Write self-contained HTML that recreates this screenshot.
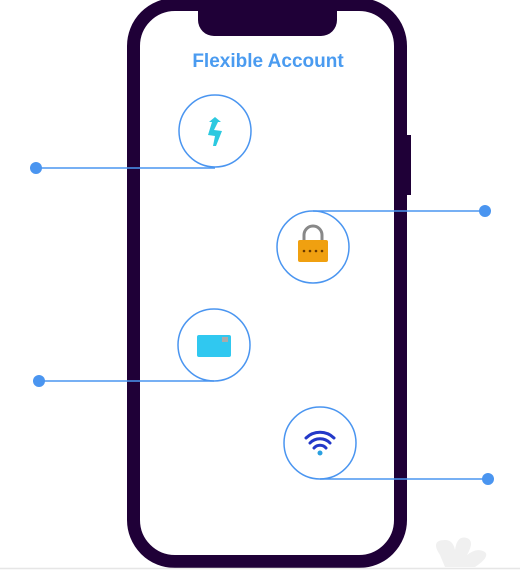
<!DOCTYPE html>
<html><head><style>
body{margin:0;width:520px;height:570px;background:#fff;position:relative;overflow:hidden;font-family:"Liberation Sans",sans-serif}
.phone{position:absolute;left:127px;top:-2px;width:254px;height:544px;border:13px solid #1f0037;border-radius:48px;background:#fff}
.notch{position:absolute;left:198px;top:0;width:139px;height:36px;background:#1f0037;border-radius:0 0 16px 16px}
.btn{position:absolute;left:405px;top:135px;width:6px;height:60px;background:#1f0037}
.title{position:absolute;left:140px;width:256px;top:51px;text-align:center;color:#4a9bf0;font-weight:bold;font-size:19px}
</style></head><body>
<div class="phone"></div><div class="notch"></div><div class="btn"></div>
<div class="title">Flexible Account</div>
<svg width="520" height="570" style="position:absolute;left:0;top:0">
<g fill="none" stroke="#4a95f0" stroke-width="1.5">
<circle cx="215" cy="131" r="36"/><line x1="36" y1="168" x2="215" y2="168"/>
<circle cx="313" cy="247" r="36"/><line x1="313" y1="211" x2="485" y2="211"/>
<circle cx="214" cy="345" r="36"/><line x1="39" y1="381" x2="214" y2="381"/>
<circle cx="320" cy="443" r="36"/><line x1="320" y1="479" x2="488" y2="479"/>
</g>
<g fill="#4a95f0"><circle cx="36" cy="168" r="6"/><circle cx="485" cy="211" r="6"/><circle cx="39" cy="381" r="6"/><circle cx="488" cy="479" r="6"/></g>
<polygon points="215,117 221,122 218,122 214,130 222,131 216,146 213,146 215,136 208,135 212,122 209,122" fill="#2cc9e0"/>
<path d="M304 240 v-5 a9 9 0 0 1 18 0 v5" fill="none" stroke="#888" stroke-width="3"/>
<rect x="298" y="240" width="30" height="22" rx="2" fill="#f0a010"/>
<g fill="#6a3a00"><circle cx="304" cy="251" r="1.3"/><circle cx="310" cy="251" r="1.3"/><circle cx="316" cy="251" r="1.3"/><circle cx="322" cy="251" r="1.3"/></g>
<rect x="197" y="335" width="34" height="22" rx="2" fill="#30c8f0"/>
<rect x="222" y="337" width="6" height="5" fill="#aaa"/>
<g fill="none" stroke="#2338c8" stroke-width="3" stroke-linecap="round">
<path d="M306 438 a20 20 0 0 1 28 0"/><path d="M310 443 a14 14 0 0 1 20 0"/><path d="M314 448 a8 8 0 0 1 12 0"/></g>
<circle cx="320" cy="453" r="2.5" fill="#2aa0e0"/>
<path d="M440 555 q-10 -15 5 -15 q8 0 10 10 q2 -15 12 -12 q8 3 0 17 q10 -8 18 -3 q5 5 -10 15 h-30z" fill="#f0f0f0"/>
<line x1="0" y1="568.5" x2="520" y2="568.5" stroke="#e6e6e6" stroke-width="1.5"/>
</svg>
</body></html>
